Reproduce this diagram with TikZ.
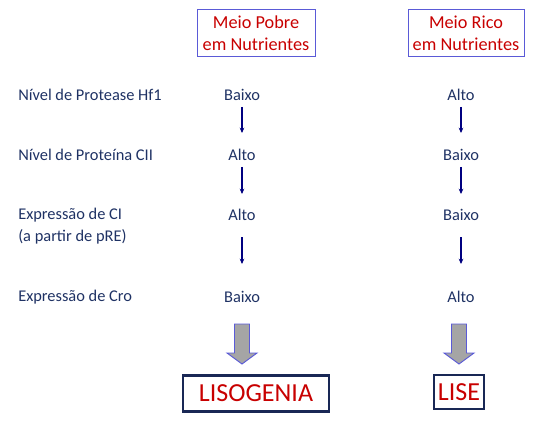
\documentclass[tikz,border=0pt]{standalone}
\usepackage{fontspec}
\setmainfont{Carlito}
\usetikzlibrary{arrows.meta}
\definecolor{txtblue}{RGB}{31,50,100}
\definecolor{hdred}{RGB}{200,0,0}
\definecolor{hdframe}{RGB}{90,90,215}
\definecolor{arrblue}{RGB}{0,0,128}
\definecolor{resframe}{RGB}{25,40,85}
\definecolor{biggray}{RGB}{165,165,165}
\begin{document}
\begin{tikzpicture}[x=0.75pt,y=0.75pt,yscale=-1,
  lbl/.style={anchor=west,inner sep=0pt,text=txtblue,align=left,font=\fontsize{12.3}{16}\selectfont},
  val/.style={inner sep=0pt,text=txtblue,font=\fontsize{12.3}{16}\selectfont},
  hdr/.style={draw=hdframe,line width=0.6pt,text=hdred,align=center,inner sep=0pt,minimum height=35pt,font=\fontsize{13.7}{16.5}\selectfont},
  res/.style={draw=resframe,line width=1.9pt,text=hdred,inner sep=0pt,minimum height=27pt,font=\fontsize{19.5}{22}\selectfont},
  down/.style={-{Stealth[length=4pt,width=3.5pt]},arrblue,line width=1.2pt},
  bigarrow/.style={fill=biggray,draw=hdframe,line width=0.7pt}
]
\useasboundingbox (0,0) rectangle (548,420);

% column heads
\node [hdr,minimum width=88.5pt] (pobre) at (256,33) {Meio Pobre\\em Nutrientes};
\node [hdr,minimum width=87pt] (rico) at (466,33) {Meio Rico\\em Nutrientes};

% row labels
\node [lbl] (hfl) at (18,95) {Nível de Protease Hf1};
\node [lbl] (ciil) at (18,155) {Nível de Proteína CII};
\node [lbl] (cil) at (18,226) {Expressão de CI\\(a partir de pRE)};
\node [lbl] (crol) at (18,297) {Expressão de Cro};

% values
\node [val] (p1) at (242,95) {Baixo};
\node [val] (p2) at (242,155) {Alto};
\node [val] (p3) at (242,215) {Alto};
\node [val] (p4) at (242,297) {Baixo};
\node [val] (r1) at (461,95) {Alto};
\node [val] (r2) at (461,155) {Baixo};
\node [val] (r3) at (461,215) {Baixo};
\node [val] (r4) at (461,297) {Alto};

\foreach \c in {p,r}{
  \draw [down,shorten <=9pt,shorten >=16.5pt] (\c1.center) -- (\c2.center);
  \draw [down,shorten <=9pt,shorten >=15.75pt] (\c2.center) -- (\c3.center);
  \draw [down,shorten <=16.5pt,shorten >=24.75pt] (\c3.center) -- (\c4.center);
}

% big arrows
\foreach \x in {242,459}{
  \draw [bigarrow] (\x-7.5,324) -- (\x+7.5,324) -- (\x+7.5,353) -- (\x+15,353) -- (\x,364) -- (\x-15,353) -- (\x-7.5,353) -- cycle;
}

% results
\node [res,minimum width=109.5pt] (lisog) at (256,393.5) {LISOGENIA};
\node [res,minimum width=37.5pt,minimum height=25.5pt] (lise) at (459,392) {LISE};

\end{tikzpicture}
\end{document}
